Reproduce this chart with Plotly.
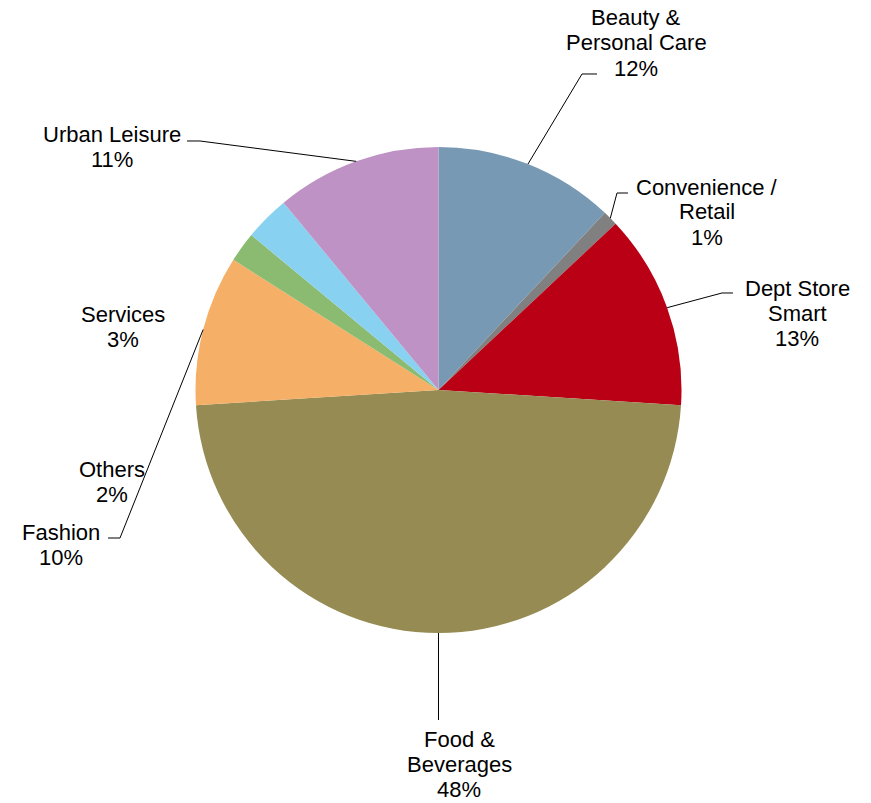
import math
import plotly.graph_objects as go

# Share of outlets by category (%), clockwise from 12 o'clock
categories = ["Beauty &<br>Personal Care", "Convenience /<br>Retail", "Dept Store<br>Smart",
              "Food &<br>Beverages", "Fashion", "Others", "Services", "Urban Leisure"]
shares = [12, 1, 13, 48, 10, 2, 3, 11]
colors = ["#7899B4", "#808080", "#B90015", "#958B53", "#F5AF66", "#8BBB70", "#89D1F0", "#BE92C4"]

W, H = 871, 803
CX, CY, R = 438.5, 390.0, 243.0
LINE_GAP = 25  # px between label lines

# label block centres (px) and optional leader elbow/tick (px)
label_pos = [(636, 43), (707, 212), (797, 313), (459, 764), (61, 545), (112, 482), (123, 327), (112, 147)]
leaders = [((582, 74), (597, 74)), ((617, 193), (628, 193)), ((722, 293), (733, 293)),
           (None, (None, 720)), ((120, 538), (108, 538)), None, None, ((200, 141), (187, 141))]


def px(x):
    return x / W


def py(y):
    return 1 - y / H


fig = go.Figure(go.Pie(
    labels=[c.replace("<br>", " ") for c in categories],
    values=shares,
    marker=dict(colors=colors, line=dict(width=0)),
    sort=False,
    direction="clockwise",
    rotation=0,
    textinfo="none",
    hoverinfo="label+percent",
    domain=dict(x=[px(CX - R), px(CX + R)], y=[py(CY + R), py(CY - R)]),
))

total = sum(shares)
cum = 0
shapes = []
annotations = []
for cat, val, (lx, ly), ld in zip(categories, shares, label_pos, leaders):
    mid = (cum + val / 2) / total * 2 * math.pi
    cum += val
    pct = round(val / total * 100)
    lines = cat.split("<br>") + [f"{pct}%"]
    top = ly - LINE_GAP * (len(lines) - 1) / 2
    for i, line in enumerate(lines):
        annotations.append(dict(
            x=px(lx), y=py(top + i * LINE_GAP), xref="paper", yref="paper",
            text=line, showarrow=False, borderpad=0,
            xanchor="center", yanchor="middle", align="center",
            font=dict(family="Liberation Sans, Arial, sans-serif", size=22, color="#000000"),
        ))
    if ld is None:
        continue
    ex, ey = CX + R * math.sin(mid), CY - R * math.cos(mid)
    elbow, tick = ld
    if elbow is None:
        pts = [(ex, ey), (ex, tick[1])]
    else:
        pts = [(ex, ey), elbow, tick]
    path = "M " + " L ".join(f"{px(a):.5f},{py(b):.5f}" for a, b in pts)
    shapes.append(dict(type="path", path=path, xref="paper", yref="paper",
                       line=dict(color="#000000", width=1)))

fig.update_layout(
    width=W, height=H,
    margin=dict(l=0, r=0, t=0, b=0),
    paper_bgcolor="white", plot_bgcolor="white",
    showlegend=False,
    shapes=shapes,
    annotations=annotations,
)

fig.write_html("out.html")
